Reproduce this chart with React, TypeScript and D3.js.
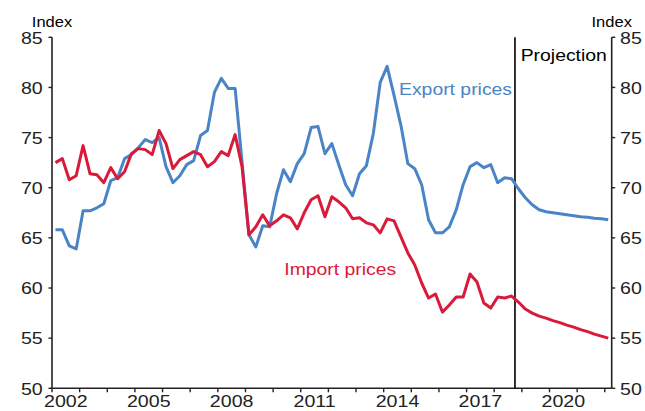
import React from "react";
import * as d3 from "d3";

const START_YEAR = 2002;
const END_X = 2022.25;
const PROJECTION_START = 2018.75;

const exportPrices = [
  65.8, 65.8, 64.2, 63.9, 67.7, 67.7, 68.0, 68.4, 70.7, 71.0, 72.9, 73.3, 74.0, 74.8, 74.5, 75.0,
  72.1, 70.5, 71.2, 72.3, 72.7, 75.2, 75.7, 79.5, 80.9, 79.9, 79.9, 72.6, 65.3, 64.1, 66.2, 66.1,
  69.4, 71.8, 70.6, 72.4, 73.4, 76.0, 76.1, 73.4, 74.4, 72.3, 70.3, 69.2, 71.4, 72.2, 75.4, 80.5,
  82.1, 79.2, 76.2, 72.4, 71.9, 70.3, 66.8, 65.5, 65.5, 66.1, 67.8, 70.3, 72.1, 72.5, 72.0, 72.3,
  70.5, 71.0, 70.9, 69.9, 69.0, 68.3, 67.8, 67.6, 67.5, 67.4, 67.3, 67.2, 67.1, 67.05, 66.95, 66.9,
  66.8,
];

const importPrices = [
  72.5, 72.9, 70.8, 71.2, 74.2, 71.4, 71.3, 70.5, 72.0, 70.9, 71.6, 73.4, 73.9, 73.8, 73.3, 75.7,
  74.4, 71.9, 72.8, 73.2, 73.6, 73.3, 72.1, 72.6, 73.6, 73.2, 75.3, 72.1, 65.3, 66.1, 67.3, 66.2,
  66.7, 67.3, 67.0, 65.9, 67.5, 68.8, 69.2, 67.1, 69.1, 68.6, 68.0, 66.9, 67.0, 66.5, 66.3, 65.5,
  66.9, 66.7, 65.1, 63.5, 62.3, 60.5, 59.0, 59.4, 57.6, 58.3, 59.1, 59.1, 61.4, 60.6, 58.5, 58.0,
  59.1, 59.0, 59.2, 58.6, 57.9, 57.5, 57.2, 57.0, 56.75, 56.55, 56.3, 56.1, 55.85, 55.65, 55.4, 55.2,
  55.0,
];

// quarter midpoints: 2002Q1 .. 2022Q1
const quarters = d3.range(exportPrices.length).map((i) => START_YEAR + (i + 0.5) / 4);

const yTicks = [50, 55, 60, 65, 70, 75, 80, 85];
const yearTicks = d3.range(2002, 2023);
const yearLabels = [2002, 2005, 2008, 2011, 2014, 2017, 2020];

const SX = 1.14;
const BLUE = "#4a84c6";
const RED = "#d91a3a";
const INK = "#222222";
const FONT = "'Liberation Sans', Arial, Helvetica, sans-serif";

const T = ({ x, y, anchor = "start", size = 17.2, fill = INK, children }: any) => (
  <text
    transform={`translate(${x},${y}) scale(${SX},1)`}
    textAnchor={anchor}
    fontSize={size}
    fill={fill}
    fontFamily={FONT}
  >
    {children}
  </text>
);

export default function App() {
  const x = d3.scaleLinear().domain([START_YEAR, END_X]).range([52, 611.7]);
  const y = d3.scaleLinear().domain([50, 85]).range([388.3, 37.3]);
  const line = d3
    .line<number>()
    .x((_, i) => x(quarters[i]))
    .y((d) => y(d));

  const left = x(START_YEAR);
  const right = x(END_X);
  const bottom = y(50);
  const top = y(85);

  return (
    <svg
      width={645}
      height={411}
      style={{ position: "absolute", left: 0, top: 0, background: "#fff" }}
    >
      <rect width={645} height={411} fill="#fff" />
      {/* axes */}
      <line x1={left} x2={left} y1={top} y2={bottom} stroke={INK} strokeWidth={1.6} />
      <line x1={right} x2={right} y1={top} y2={bottom} stroke={INK} strokeWidth={1.6} />
      <line x1={left} x2={right} y1={bottom} y2={bottom} stroke={INK} strokeWidth={1.6} />
      {yTicks.map((t) => (
        <g key={t}>
          <line x1={left - 3.5} x2={left} y1={y(t)} y2={y(t)} stroke={INK} strokeWidth={1.4} />
          <line x1={right} x2={right + 3.5} y1={y(t)} y2={y(t)} stroke={INK} strokeWidth={1.4} />
          <T x={42.7} y={y(t) + 6.2} anchor="end">{t}</T>
          <T x={620} y={y(t) + 6.2} anchor="start">{t}</T>
        </g>
      ))}
      {yearTicks.map((yr) => (
        <line key={yr} x1={x(yr)} x2={x(yr)} y1={bottom} y2={bottom + 4} stroke={INK} strokeWidth={1.4} />
      ))}
      {yearLabels.map((yr) => (
        <T key={yr} x={x(yr + 0.5)} y={407} anchor="middle">{yr}</T>
      ))}
      <T x={left} y={26.5} anchor="middle" size={14.5} fill="#000">Index</T>
      <T x={right} y={26.5} anchor="middle" size={14.5} fill="#000">Index</T>

      {/* projection */}
      <line
        x1={x(PROJECTION_START)}
        x2={x(PROJECTION_START)}
        y1={top}
        y2={bottom}
        stroke="#000"
        strokeWidth={1.6}
      />
      <T x={520.7} y={61} size={17} fill="#000">Projection</T>

      {/* series */}
      <path d={line(exportPrices) || ""} fill="none" stroke={BLUE} strokeWidth={3} strokeLinejoin="round" />
      <path d={line(importPrices) || ""} fill="none" stroke={RED} strokeWidth={3} strokeLinejoin="round" />

      <T x={399} y={95} size={17} fill={BLUE}>Export prices</T>
      <T x={284.3} y={275.3} size={17} fill={RED}>Import prices</T>
    </svg>
  );
}
